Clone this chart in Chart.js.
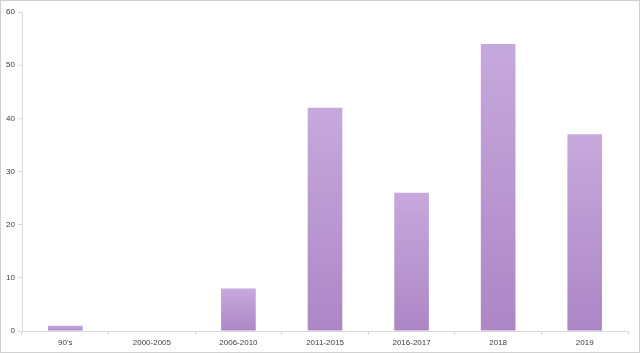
<!DOCTYPE html>
<html>
<head>
<meta charset="utf-8">
<script src="https://cdn.jsdelivr.net/npm/chart.js@4/dist/chart.umd.min.js"></script>
<style>
    html, body { margin: 0; padding: 0; background: #fff; }
    #wrap { width: 640px; height: 353px; position: relative; }
</style>
</head>
<body>
<div id="wrap"><canvas id="chart" width="640" height="353"></canvas></div>
<script>
(function () {
    "use strict";

    const categories = ["90's", "2000-2005", "2006-2010", "2011-2015", "2016-2017", "2018", "2019"];
    const values = [1, 0, 8, 42, 26, 54, 37];
    const yTicks = [0, 10, 20, 30, 40, 50, 60];

    const axisColor = "#d9d9d9";
    const textColor = "#404040";

    // frame around the whole picture
    const framePlugin = {
        id: "frame",
        afterDraw(chart) {
            const c = chart.ctx;
            c.save();
            c.strokeStyle = "#d0d0d0";
            c.lineWidth = 1;
            c.strokeRect(0.5, 0.5, chart.width - 1, chart.height - 1);
            c.restore();
        },
    };

    const barFill = (context) => {
        const chart = context.chart;
        if (!chart.chartArea) return "#b995d0";
        const y = chart.scales.y;
        const top = y.getPixelForValue(context.raw);
        const bottom = y.getPixelForValue(0);
        if (bottom - top < 1) return "#b08ac8";
        const g = chart.ctx.createLinearGradient(0, top, 0, bottom);
        g.addColorStop(0, "#c6a9dc");
        g.addColorStop(1, "#ad86c6");
        return g;
    };

    const ctx = document.getElementById("chart").getContext("2d");
    new Chart(ctx, {
        type: "bar",
        data: {
            labels: categories,
            datasets: [
                {
                    data: values,
                    backgroundColor: barFill,
                    borderWidth: 0,
                    categoryPercentage: 1,
                    barPercentage: 0.4,
                },
            ],
        },
        plugins: [framePlugin],
        options: {
            responsive: false,
            animation: false,
            layout: {
                padding: { left: 0, right: 12, top: 12, bottom: 0 },
            },
            plugins: {
                legend: { display: false },
                tooltip: { enabled: false },
            },
            scales: {
                x: {
                    grid: {
                        offset: true,
                        drawOnChartArea: false,
                        drawTicks: true,
                        tickLength: 4,
                        color: axisColor,
                    },
                    border: { color: axisColor },
                    ticks: {
                        color: textColor,
                        font: { family: "Liberation Sans", size: 8 },
                        padding: 3,
                        maxRotation: 0,
                    },
                    afterFit(scale) {
                        scale.height = 22;
                    },
                },
                y: {
                    min: 0,
                    max: 60,
                    afterBuildTicks(scale) {
                        scale.ticks = yTicks.map((v) => ({ value: v }));
                    },
                    grid: {
                        drawOnChartArea: false,
                        drawTicks: true,
                        tickLength: 4,
                        color: axisColor,
                    },
                    border: { color: axisColor },
                    ticks: {
                        color: textColor,
                        font: { family: "Liberation Sans", size: 8 },
                        padding: 3,
                    },
                    afterFit(scale) {
                        scale.width = 22;
                    },
                },
            },
        },
    });
})();
</script>
</body>
</html>
